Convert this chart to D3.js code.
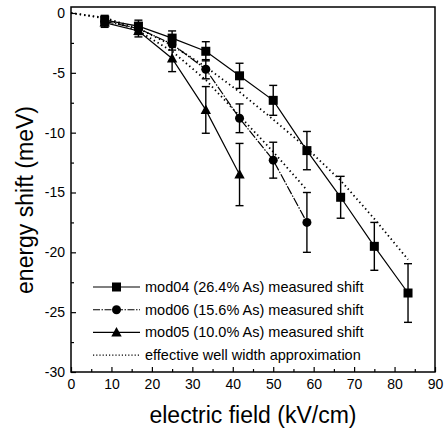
<!DOCTYPE html>
<html><head><meta charset="utf-8">
<script src="https://cdn.jsdelivr.net/npm/d3@7"></script>
<style>body{margin:0;background:#fff}svg{display:block}text{font-family:"Liberation Sans",Arial,Helvetica,sans-serif;fill:#000}</style>
</head><body><svg id="c" width="444" height="433"></svg>
<script>
const fields4 = [8.33, 16.67, 25, 33.33, 41.67, 50, 58.33, 66.67, 75, 83.33];
const mod04 = [-0.6, -1.1, -2.1, -3.2, -5.25, -7.3, -11.5, -15.4, -19.5, -23.4];
const mod04Err = [0.4, 0.5, 0.6, 0.8, 1.05, 1.25, 1.6, 1.75, 2.0, 2.45];
const fields6 = [8.33, 16.67, 25, 33.33, 41.67, 50, 58.33];
const mod06 = [-0.7, -1.3, -2.6, -4.7, -8.8, -12.3, -17.5];
const mod06Err = [0.4, 0.5, 0.5, 0.8, 1.2, 1.5, 2.5];
const fields5 = [8.33, 16.67, 25, 33.33, 41.67];
const mod05 = [-0.8, -1.5, -3.8, -8.1, -13.5];
const mod05Err = [0.4, 0.5, 1.1, 1.95, 2.6];
const modelFields4 = [0, 8.33, 16.67, 25, 33.33, 41.67, 50, 58.33, 66.67, 75, 83.33];
const model04 = [0, -0.4, -1.3, -2.7, -4.5, -6.6, -8.9, -11.3, -14.0, -17.2, -20.6];
const modelFields6 = [0, 8.33, 16.67, 25, 33.33, 41.67, 50, 58.33];
const model06 = [0, -0.45, -1.5, -3.2, -5.6, -8.6, -11.6, -14.8];
const xTicks = [0, 10, 20, 30, 40, 50, 60, 70, 80, 90];
const yTicks = [0, -5, -10, -15, -20, -25, -30];
const legendLabels = ["mod04 (26.4% As) measured shift", "mod06 (15.6% As) measured shift", "mod05 (10.0% As) measured shift", "effective well width approximation"];

const svg = d3.select("#c");
const L = 71, R = 435, T = 7, B = 372;
const x = d3.scaleLinear().domain([0, 90]).range([L, R]);
const y = d3.scaleLinear().domain([-30, 0.5]).range([B, T]);

// axes
svg.append("g").attr("transform", `translate(0,${B})`)
  .call(d3.axisBottom(x).tickValues(xTicks).tickSize(-5).tickPadding(7).tickFormat(d => String(d)));
svg.append("g").attr("transform", `translate(0,${B})`)
  .call(d3.axisBottom(x).tickValues(d3.range(5, 90, 10)).tickSize(-3).tickFormat(""));
svg.append("g").attr("transform", `translate(${L},0)`)
  .call(d3.axisLeft(y).tickValues(yTicks).tickSize(-5).tickPadding(6).tickFormat(d => String(d)));
svg.append("g").attr("transform", `translate(${L},0)`)
  .call(d3.axisLeft(y).tickValues(d3.range(-27.5, 0, 5)).tickSize(-3).tickFormat(""));
svg.selectAll(".domain").remove();
svg.selectAll(".tick line").attr("stroke", "#000").attr("stroke-width", 1.2);
svg.selectAll(".tick text").attr("font-size", 14).attr("fill", "#000").style("font-family", '"Liberation Sans",Arial,sans-serif');

svg.append("rect").attr("x", L).attr("y", T).attr("width", R - L).attr("height", B - T)
  .attr("fill", "none").attr("stroke", "#000").attr("stroke-width", 1.5);

// model dotted lines
const line = d3.line().x(d => x(d[0])).y(d => y(d[1]));
[[modelFields4, model04], [modelFields6, model06]].forEach(([f, v]) => {
  svg.append("path").datum(f.map((d, i) => [d, v[i]])).attr("d", line)
    .attr("fill", "none").attr("stroke", "#000").attr("stroke-width", 1.8)
    .attr("stroke-dasharray", "1.4,3").attr("stroke-linecap", "butt");
});

const series = [
  {f: fields5, v: mod05, e: mod05Err, shape: "tri", dash: null},
  {f: fields6, v: mod06, e: mod06Err, shape: "circ", dash: "9,1.5,1.5,1.5"},
  {f: fields4, v: mod04, e: mod04Err, shape: "sq", dash: null},
];

function marker(g, shape, cx, cy) {
  if (shape === "sq") g.append("rect").attr("x", cx - 4.5).attr("y", cy - 4.5).attr("width", 9).attr("height", 9).attr("fill", "#000");
  else if (shape === "circ") g.append("circle").attr("cx", cx).attr("cy", cy).attr("r", 4.5).attr("fill", "#000");
  else g.append("path").attr("d", `M${cx},${cy - 5.5}L${cx + 5.2},${cy + 4}L${cx - 5.2},${cy + 4}Z`).attr("fill", "#000");
}

series.forEach(s => {
  const pts = s.f.map((d, i) => [d, s.v[i]]);
  const p = svg.append("path").datum(pts).attr("d", line).attr("fill", "none").attr("stroke", "#000").attr("stroke-width", 1.2);
  if (s.dash) p.attr("stroke-dasharray", s.dash);
  const g = svg.append("g");
  pts.forEach((d, i) => {
    const cx = x(d[0]), y1 = y(d[1] + s.e[i]), y2 = y(d[1] - s.e[i]);
    g.append("line").attr("x1", cx).attr("x2", cx).attr("y1", y1).attr("y2", y2).attr("stroke", "#000").attr("stroke-width", 1.4);
    [y1, y2].forEach(yy => g.append("line").attr("x1", cx - 4).attr("x2", cx + 4).attr("y1", yy).attr("y2", yy).attr("stroke", "#000").attr("stroke-width", 1.4));
    marker(g, s.shape, cx, y(d[1]));
  });
});

// legend
const legShapes = ["sq", "circ", "tri", null];
const legDash = [null, "7,1.5,1.5,1.5", null, "1.2,2"];
legendLabels.forEach((t, i) => {
  const ly = 287 + i * 22.7;
  const g = svg.append("g");
  const ln = g.append("line").attr("x1", 93).attr("x2", 140).attr("y1", ly).attr("y2", ly).attr("stroke", "#000").attr("stroke-width", 1.1);
  if (legDash[i]) ln.attr("stroke-dasharray", legDash[i]);
  if (legShapes[i]) marker(g, legShapes[i], 116.5, ly);
  g.append("text").attr("x", 145).attr("y", ly + 5).attr("font-size", 14.5).text(t);
});

// axis titles
svg.append("text").attr("x", (L + R) / 2).attr("y", 423).attr("text-anchor", "middle").attr("font-size", 23).text("electric field (kV/cm)");
svg.append("text").attr("transform", `translate(33,200) rotate(-90)`).attr("text-anchor", "middle").attr("font-size", 23).text("energy shift (meV)");
</script></body></html>
